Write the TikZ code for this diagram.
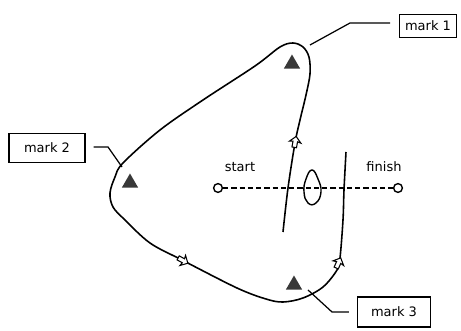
\documentclass[tikz,border=0pt]{standalone}
\usepackage{fontspec}
\setmainfont{DejaVu Sans}
\usetikzlibrary{shapes.geometric,shapes.arrows}

\begin{document}
\begin{tikzpicture}[x=0.02cm,y=-0.02cm,
		course/.style={line width=0.9pt,line join=round},
		leader/.style={line width=0.7pt},
		markbox/.style={draw,line width=0.7pt,inner sep=0pt,font=\fontsize{7.4}{8}\selectfont},
		buoy/.style={regular polygon,regular polygon sides=3,fill=black!78,inner sep=0pt,minimum size=0.38cm},
		endpt/.style={circle,draw,line width=0.8pt,fill=white,inner sep=0pt,minimum size=5pt},
		arrowmark/.style={single arrow,draw,fill=white,line width=0.6pt,inner sep=1pt,minimum height=6.3pt,minimum width=6.4pt,single arrow head extend=2pt,single arrow head indent=0.4pt}]
		\useasboundingbox (0,0) rectangle (461,331);
		% course sailed
		\draw [course] plot [smooth,tension=0.55] coordinates {(283,232) (288,188) (295,143) (300,120) (306,95) (310,74) (309,57) (303,47) (293,43) (280,47) (255,66) (203,100) (160,130) (123,163) (115,177) (110,193) (113,207) (125,220) (150,243) (182,260) (237,288) (266,299) (283,302) (303,298) (323,287) (337,270) (340,258) (343,220) (344,190) (346,152)};
		\node [arrowmark,rotate=80] (a1) at (295,143) {};
		\node [arrowmark,rotate=-29] (a2) at (182,260) {};
		\node [arrowmark,rotate=66] (a3) at (338,264) {};
		% start and finish line
		\node [endpt] (st) at (218,188) {};
		\node [endpt] (fi) at (398,188) {};
		\draw [line width=0.7pt,dash pattern=on 3pt off 1.7pt] (st) -- (fi);
		\node (stlbl) at (240,167) {\fontsize{7.4}{8}\selectfont start};
		\node (filbl) at (384,167) {\fontsize{7.4}{8}\selectfont finish};
		\draw [line width=0.8pt] plot [smooth cycle,tension=0.8] coordinates {(312,170) (318,179) (321,192) (316,203) (308,203) (304,192) (306,179)};
		% marks
		\node [buoy] (b1) at (292,64) {};
		\node [buoy] (b2) at (130,183) {};
		\node [buoy] (b3) at (294,285) {};
		\node [markbox,minimum width=1.14cm,minimum height=0.46cm] (m1) at (428,26) {mark 1};
		\node [markbox,minimum width=1.52cm,minimum height=0.58cm] (m2) at (47,148) {mark 2};
		\node [markbox,minimum width=1.46cm,minimum height=0.6cm] (m3) at (394,312) {mark 3};
		\coordinate (k1) at (350,23);
		\coordinate (e1) at (310,45);
		\coordinate (k2) at (108,147);
		\coordinate (e2) at (122,167);
		\coordinate (k3) at (332,312);
		\coordinate (e3) at (308,290);
		\draw [leader,shorten <=5pt] (k1 -| m1.west) -- (k1) -- (e1);
		\draw [leader,shorten <=4.5pt] (k2 -| m2.east) -- (k2) -- (e2);
		\draw [leader,shorten >=4.5pt] (e3) -- (k3) -- (k3 -| m3.west);
	\end{tikzpicture}
\end{document}
